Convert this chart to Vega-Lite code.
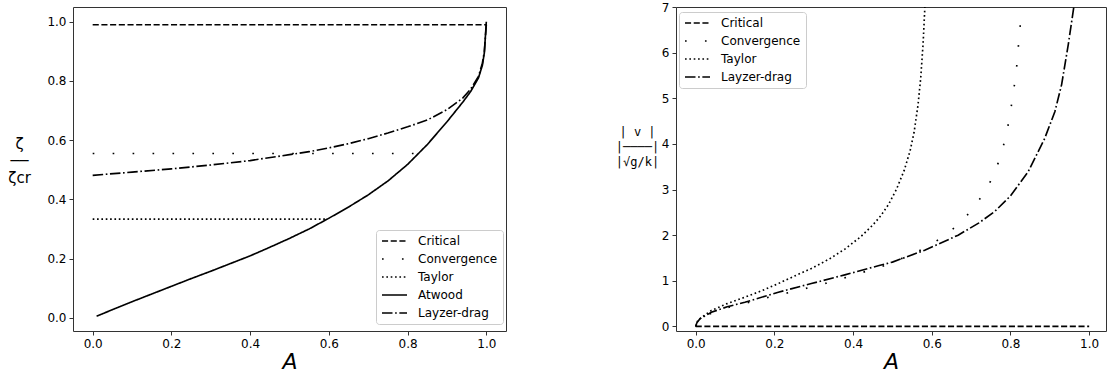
{
  "$schema": "https://vega.github.io/schema/vega-lite/v6.json",
  "padding": {"left": 7, "top": 0, "right": 0, "bottom": 0},
  "autosize": {"type": "pad"},
  "bounds": "flush",
  "spacing": 170,
  "config": {
    "font": "DejaVu Sans",
    "view": {"stroke": "#333", "strokeWidth": 1},
    "axis": {"grid": false, "domain": false, "tickColor": "#333", "tickSize": 4, "labelPadding": 3, "labelFontSize": 12, "labelColor": "#000", "labelFont": "DejaVu Sans", "titleFont": "DejaVu Sans", "titleColor": "#000", "titleFontWeight": "normal"},
    "legend": {"symbolType": "stroke", "symbolSize": 625, "symbolStrokeWidth": 1.65, "symbolStrokeColor": "black", "labelFontSize": 12, "labelFont": "DejaVu Sans", "labelColor": "#000", "labelOffset": 10, "padding": 5, "rowPadding": 6, "clipHeight": 12, "strokeColor": "#cccccc", "fillColor": "rgba(255,255,255,0.8)", "cornerRadius": 3}
  },
  "datasets": {
    "left": [
      {"series": "Critical", "A": 0, "y": 0.99},
      {"series": "Critical", "A": 1, "y": 0.99},
      {"series": "Convergence", "A": 0, "y": 0.555},
      {"series": "Convergence", "A": 0.82, "y": 0.555},
      {"series": "Taylor", "A": 0, "y": 0.333},
      {"series": "Taylor", "A": 0.593, "y": 0.333},
      {"series": "Atwood", "A": 0.01, "y": 0.005},
      {"series": "Atwood", "A": 0.05, "y": 0.027},
      {"series": "Atwood", "A": 0.1, "y": 0.054},
      {"series": "Atwood", "A": 0.15, "y": 0.08},
      {"series": "Atwood", "A": 0.2, "y": 0.106},
      {"series": "Atwood", "A": 0.25, "y": 0.132},
      {"series": "Atwood", "A": 0.3, "y": 0.157},
      {"series": "Atwood", "A": 0.35, "y": 0.183},
      {"series": "Atwood", "A": 0.4, "y": 0.209},
      {"series": "Atwood", "A": 0.45, "y": 0.238},
      {"series": "Atwood", "A": 0.5, "y": 0.268},
      {"series": "Atwood", "A": 0.55, "y": 0.3},
      {"series": "Atwood", "A": 0.6, "y": 0.336},
      {"series": "Atwood", "A": 0.65, "y": 0.374},
      {"series": "Atwood", "A": 0.7, "y": 0.415},
      {"series": "Atwood", "A": 0.75, "y": 0.462},
      {"series": "Atwood", "A": 0.8, "y": 0.518},
      {"series": "Atwood", "A": 0.85, "y": 0.585},
      {"series": "Atwood", "A": 0.9, "y": 0.662},
      {"series": "Atwood", "A": 0.94, "y": 0.728},
      {"series": "Atwood", "A": 0.96, "y": 0.764},
      {"series": "Atwood", "A": 0.98, "y": 0.81},
      {"series": "Atwood", "A": 0.99, "y": 0.853},
      {"series": "Atwood", "A": 0.995, "y": 0.895},
      {"series": "Atwood", "A": 1.0, "y": 1.0},
      {"series": "Layzer-drag", "A": 0, "y": 0.481},
      {"series": "Layzer-drag", "A": 0.1, "y": 0.492},
      {"series": "Layzer-drag", "A": 0.2, "y": 0.503},
      {"series": "Layzer-drag", "A": 0.3, "y": 0.516},
      {"series": "Layzer-drag", "A": 0.4, "y": 0.531},
      {"series": "Layzer-drag", "A": 0.5, "y": 0.551},
      {"series": "Layzer-drag", "A": 0.55, "y": 0.561},
      {"series": "Layzer-drag", "A": 0.6, "y": 0.574},
      {"series": "Layzer-drag", "A": 0.65, "y": 0.588},
      {"series": "Layzer-drag", "A": 0.7, "y": 0.605},
      {"series": "Layzer-drag", "A": 0.75, "y": 0.624},
      {"series": "Layzer-drag", "A": 0.8, "y": 0.645},
      {"series": "Layzer-drag", "A": 0.85, "y": 0.668},
      {"series": "Layzer-drag", "A": 0.9, "y": 0.703},
      {"series": "Layzer-drag", "A": 0.94, "y": 0.742},
      {"series": "Layzer-drag", "A": 0.96, "y": 0.772},
      {"series": "Layzer-drag", "A": 0.98, "y": 0.815},
      {"series": "Layzer-drag", "A": 0.99, "y": 0.86},
      {"series": "Layzer-drag", "A": 0.995, "y": 0.9},
      {"series": "Layzer-drag", "A": 1.0, "y": 0.99}
    ],
    "right": [
      {"series": "Critical", "A": 0, "v": 0},
      {"series": "Critical", "A": 1, "v": 0},
      {"series": "Convergence", "A": 0, "v": 0},
      {"series": "Convergence", "A": 0.013, "v": 0.205},
      {"series": "Convergence", "A": 0.037, "v": 0.278},
      {"series": "Convergence", "A": 0.087, "v": 0.425},
      {"series": "Convergence", "A": 0.138, "v": 0.535},
      {"series": "Convergence", "A": 0.187, "v": 0.644},
      {"series": "Convergence", "A": 0.236, "v": 0.74},
      {"series": "Convergence", "A": 0.284, "v": 0.842},
      {"series": "Convergence", "A": 0.333, "v": 0.952},
      {"series": "Convergence", "A": 0.383, "v": 1.076},
      {"series": "Convergence", "A": 0.433, "v": 1.208},
      {"series": "Convergence", "A": 0.483, "v": 1.34},
      {"series": "Convergence", "A": 0.532, "v": 1.52},
      {"series": "Convergence", "A": 0.576, "v": 1.69},
      {"series": "Convergence", "A": 0.619, "v": 1.91},
      {"series": "Convergence", "A": 0.66, "v": 2.18},
      {"series": "Convergence", "A": 0.696, "v": 2.49},
      {"series": "Convergence", "A": 0.727, "v": 2.85},
      {"series": "Convergence", "A": 0.752, "v": 3.22},
      {"series": "Convergence", "A": 0.771, "v": 3.63},
      {"series": "Convergence", "A": 0.785, "v": 4.05},
      {"series": "Convergence", "A": 0.796, "v": 4.49},
      {"series": "Convergence", "A": 0.804, "v": 4.93},
      {"series": "Convergence", "A": 0.811, "v": 5.35},
      {"series": "Convergence", "A": 0.817, "v": 5.79},
      {"series": "Convergence", "A": 0.821, "v": 6.23},
      {"series": "Convergence", "A": 0.8255, "v": 6.67},
      {"series": "Taylor", "A": 0, "v": 0},
      {"series": "Taylor", "A": 0.005, "v": 0.12},
      {"series": "Taylor", "A": 0.015, "v": 0.2},
      {"series": "Taylor", "A": 0.04, "v": 0.35},
      {"series": "Taylor", "A": 0.08, "v": 0.5},
      {"series": "Taylor", "A": 0.125, "v": 0.64},
      {"series": "Taylor", "A": 0.17, "v": 0.79},
      {"series": "Taylor", "A": 0.21, "v": 0.94},
      {"series": "Taylor", "A": 0.25, "v": 1.1},
      {"series": "Taylor", "A": 0.294, "v": 1.27},
      {"series": "Taylor", "A": 0.34, "v": 1.48},
      {"series": "Taylor", "A": 0.38, "v": 1.7},
      {"series": "Taylor", "A": 0.42, "v": 1.97},
      {"series": "Taylor", "A": 0.45, "v": 2.22},
      {"series": "Taylor", "A": 0.47, "v": 2.42},
      {"series": "Taylor", "A": 0.49, "v": 2.67},
      {"series": "Taylor", "A": 0.51, "v": 3.0},
      {"series": "Taylor", "A": 0.53, "v": 3.42},
      {"series": "Taylor", "A": 0.545, "v": 3.85},
      {"series": "Taylor", "A": 0.555, "v": 4.25},
      {"series": "Taylor", "A": 0.565, "v": 4.85},
      {"series": "Taylor", "A": 0.572, "v": 5.45},
      {"series": "Taylor", "A": 0.578, "v": 6.2},
      {"series": "Taylor", "A": 0.5825, "v": 7.0},
      {"series": "Layzer-drag", "A": 0, "v": 0},
      {"series": "Layzer-drag", "A": 0.003, "v": 0.08},
      {"series": "Layzer-drag", "A": 0.011, "v": 0.17},
      {"series": "Layzer-drag", "A": 0.04, "v": 0.31},
      {"series": "Layzer-drag", "A": 0.08, "v": 0.43},
      {"series": "Layzer-drag", "A": 0.125, "v": 0.53},
      {"series": "Layzer-drag", "A": 0.21, "v": 0.75},
      {"series": "Layzer-drag", "A": 0.294, "v": 0.94},
      {"series": "Layzer-drag", "A": 0.379, "v": 1.13},
      {"series": "Layzer-drag", "A": 0.464, "v": 1.33},
      {"series": "Layzer-drag", "A": 0.5, "v": 1.41},
      {"series": "Layzer-drag", "A": 0.582, "v": 1.67},
      {"series": "Layzer-drag", "A": 0.667, "v": 2.0},
      {"series": "Layzer-drag", "A": 0.72, "v": 2.27},
      {"series": "Layzer-drag", "A": 0.76, "v": 2.52},
      {"series": "Layzer-drag", "A": 0.8, "v": 2.86},
      {"series": "Layzer-drag", "A": 0.845, "v": 3.39},
      {"series": "Layzer-drag", "A": 0.887, "v": 4.12},
      {"series": "Layzer-drag", "A": 0.913, "v": 4.71},
      {"series": "Layzer-drag", "A": 0.93, "v": 5.3},
      {"series": "Layzer-drag", "A": 0.947, "v": 6.18},
      {"series": "Layzer-drag", "A": 0.961, "v": 7.0}
    ]
  },
  "hconcat": [
    {
      "width": 433,
      "height": 324,
      "data": {"name": "left"},
      "mark": {"type": "line", "color": "black", "strokeWidth": 1.65},
      "encoding": {
        "x": {"field": "A", "type": "quantitative", "scale": {"domain": [-0.05, 1.05], "nice": false, "zero": false},
          "axis": {"values": [0, 0.2, 0.4, 0.6, 0.8, 1.0], "format": ".1f", "title": "A", "titleFontStyle": "italic", "titleFontSize": 22, "titlePadding": 2}},
        "y": {"field": "y", "type": "quantitative", "scale": {"domain": [-0.045, 1.05], "nice": false, "zero": false},
          "axis": {"values": [0, 0.2, 0.4, 0.6, 0.8, 1.0], "format": ".1f", "title": ["ζ", "──", "ζcr"], "titleAngle": 0, "titleAlign": "center", "titleBaseline": "middle", "titleX": -54, "titleY": 136, "titleFontSize": 15, "titleLineHeight": 17}},
        "strokeDash": {"field": "series", "type": "nominal",
          "scale": {"domain": ["Critical", "Convergence", "Taylor", "Atwood", "Layzer-drag"], "range": [[6.1, 2.6], [1.65, 18.3], [1.65, 2.7], [1, 0], [10.5, 2.6, 1.65, 2.6]]},
          "legend": {"orient": "none", "legendX": 303, "legendY": 223, "title": null}}
      }
    },
    {
      "width": 430,
      "height": 324,
      "data": {"name": "right"},
      "mark": {"type": "line", "color": "black", "strokeWidth": 1.65},
      "encoding": {
        "x": {"field": "A", "type": "quantitative", "scale": {"domain": [-0.05, 1.0428], "nice": false, "zero": false},
          "axis": {"values": [0, 0.2, 0.4, 0.6, 0.8, 1.0], "format": ".1f", "title": "A", "titleFontStyle": "italic", "titleFontSize": 22, "titlePadding": 2, "titleX": 215}},
        "y": {"field": "v", "type": "quantitative", "scale": {"domain": [-0.1, 7], "nice": false, "zero": false},
          "axis": {"values": [0, 1, 2, 3, 4, 5, 6, 7], "format": "d", "title": ["| v  |", "|────|", "|√g/k|"], "titleFont": "DejaVu Sans Mono", "titleAngle": 0, "titleAlign": "center", "titleBaseline": "middle", "titleX": -39, "titleY": 124, "titleFontSize": 12, "titleLineHeight": 15}},
        "strokeDash": {"field": "series", "type": "nominal",
          "scale": {"domain": ["Critical", "Convergence", "Taylor", "Layzer-drag"], "range": [[6.1, 2.6], [1.65, 18.3], [1.65, 2.7], [10.5, 2.6, 1.65, 2.6]]},
          "legend": {"orient": "none", "legendX": 3, "legendY": 5, "title": null}}
      }
    }
  ],
  "resolve": {"scale": {"strokeDash": "independent", "x": "independent", "y": "independent"}, "legend": {"strokeDash": "independent"}}
}
